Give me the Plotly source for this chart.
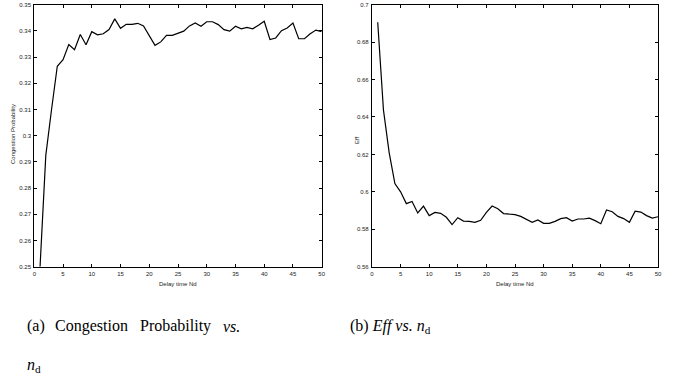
import plotly.graph_objects as go

nd = list(range(1, 51))

congestion_prob = [
    0.2500, 0.2925, 0.3100, 0.3265, 0.3290, 0.3348, 0.3328, 0.3386, 0.3347, 0.3397,
    0.3385, 0.3389, 0.3405, 0.3446, 0.3410, 0.3425, 0.3425, 0.3429, 0.3419, 0.3380,
    0.3345, 0.3358, 0.3383, 0.3383, 0.3390, 0.3399, 0.3419, 0.3430, 0.3418, 0.3435,
    0.3435, 0.3424, 0.3405, 0.3399, 0.3418, 0.3408, 0.3413, 0.3408, 0.3422, 0.3437,
    0.3367, 0.3373, 0.3401, 0.3411, 0.3430, 0.3370, 0.3370, 0.3389, 0.3403, 0.3397,
]

eff = [
    0.6906, 0.6438, 0.6210, 0.6044, 0.6000, 0.5937, 0.5949, 0.5887, 0.5924, 0.5873,
    0.5890, 0.5885, 0.5864, 0.5825, 0.5862, 0.5844, 0.5842, 0.5837, 0.5848, 0.5890,
    0.5924, 0.5910, 0.5884, 0.5882, 0.5878, 0.5869, 0.5853, 0.5837, 0.5850, 0.5832,
    0.5832, 0.5842, 0.5857, 0.5862, 0.5844, 0.5855, 0.5855, 0.5859, 0.5846, 0.5830,
    0.5903, 0.5894, 0.5869, 0.5857, 0.5837, 0.5897, 0.5892, 0.5873, 0.5860, 0.5867,
]

x_ticks = [0, 5, 10, 15, 20, 25, 30, 35, 40, 45, 50]
y1_ticks = [0.25, 0.26, 0.27, 0.28, 0.29, 0.30, 0.31, 0.32, 0.33, 0.34, 0.35]
y1_labels = ["0.25", "0.26", "0.27", "0.28", "0.29", "0.3", "0.31", "0.32", "0.33", "0.34", "0.35"]
y2_ticks = [0.56, 0.58, 0.60, 0.62, 0.64, 0.66, 0.68, 0.70]
y2_labels = ["0.56", "0.58", "0.6", "0.62", "0.64", "0.66", "0.68", "0.7"]

W, H = 673, 377
tick_font = dict(family="Liberation Sans, Arial, sans-serif", size=6, color="#222")
cap_font = dict(family="Liberation Serif, Times New Roman, serif", size=16, color="#000")

fig = go.Figure()
fig.add_trace(go.Scatter(x=nd, y=congestion_prob, mode="lines",
                         line=dict(color="black", width=1.2), xaxis="x", yaxis="y",
                         showlegend=False, cliponaxis=True))
fig.add_trace(go.Scatter(x=nd, y=eff, mode="lines",
                         line=dict(color="black", width=1.2), xaxis="x2", yaxis="y2",
                         showlegend=False, cliponaxis=True))

ydom = [1 - 266.7 / H, 1 - 4.7 / H]
ax_common = dict(showline=True, linecolor="black", linewidth=1.2, mirror="allticks",
                 ticks="inside", ticklen=3, tickcolor="black", tickwidth=1,
                 showgrid=False, zeroline=False, tickfont=tick_font, ticklabelstandoff=1,
                 automargin=False)

fig.update_layout(
    template="none",
    width=W, height=H,
    margin=dict(l=0, r=0, t=0, b=0, pad=0),
    paper_bgcolor="white", plot_bgcolor="white",
    xaxis=dict(domain=[34.3 / W, 321.7 / W], range=[0, 50], tickvals=x_ticks,
               anchor="y", **ax_common),
    yaxis=dict(domain=ydom, range=[0.25, 0.35], tickvals=y1_ticks, ticktext=y1_labels,
               anchor="x", **ax_common),
    xaxis2=dict(domain=[372 / W, 658 / W], range=[0, 50], tickvals=x_ticks,
                anchor="y2", **ax_common),
    yaxis2=dict(domain=ydom, range=[0.56, 0.70], tickvals=y2_ticks, ticktext=y2_labels,
                anchor="x2", **ax_common),
)

def px_to_paper(xpx, ypx):
    return xpx / W, 1 - ypx / H

annots = []
# axis titles
for cx in [(34.3 + 321.7) / 2, (372 + 658) / 2]:
    x, y = px_to_paper(cx, 284)
    annots.append(dict(x=x, y=y, text="Delay time Nd", font=tick_font))
x, y = px_to_paper(13, 134)
annots.append(dict(x=x, y=y, text="Congestion Probability", textangle=-90, font=tick_font))
x, y = px_to_paper(357, 140)
annots.append(dict(x=x, y=y, text="Eff", textangle=-90, font=tick_font))

# captions
for word, xpx in [("(a)", 25), ("Congestion", 53), ("Probability", 138), ("<i>vs.</i>", 221)]:
    x, y = px_to_paper(xpx, 326)
    annots.append(dict(x=x, y=y, text=word, xanchor="left", font=cap_font))
x, y = px_to_paper(25, 377)
annots.append(dict(x=x, y=y, text="<i>n</i><sub>d</sub>", xanchor="left",
                   yanchor="bottom", font=cap_font))
x, y = px_to_paper(348, 326)
annots.append(dict(x=x, y=y, text="(b) <i>Eff vs.</i> <i>n</i><sub>d</sub>", xanchor="left", font=cap_font))

for a in annots:
    a.setdefault("xanchor", "center")
    a.setdefault("yanchor", "middle")
    a.update(xref="paper", yref="paper", showarrow=False)
fig.update_layout(annotations=annots)

fig.write_html("out.html",
               config={"displayModeBar": False},
               post_script="document.body.style.margin='0';document.body.style.overflow='hidden';")
